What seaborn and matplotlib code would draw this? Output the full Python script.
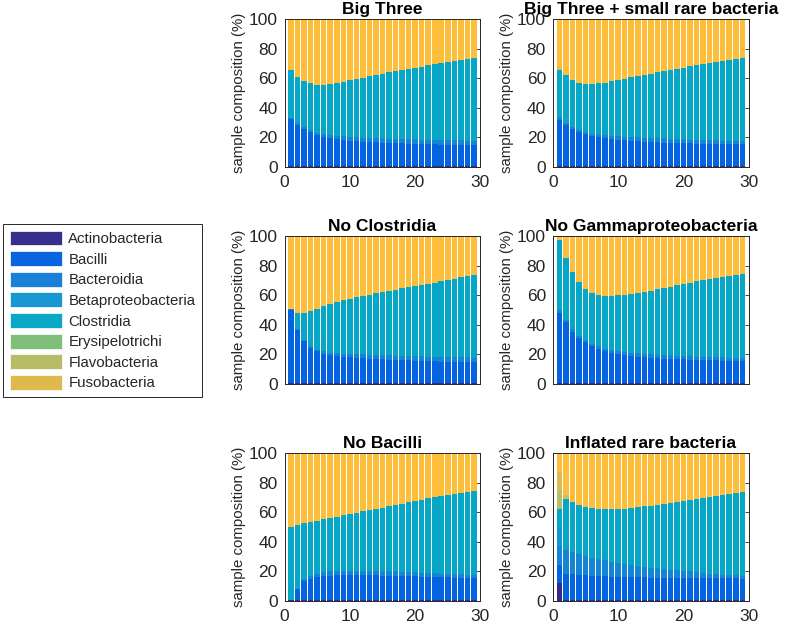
import numpy as np
import matplotlib
matplotlib.use("Agg")
import matplotlib.pyplot as plt
from matplotlib.patches import Patch
import seaborn as sns

sns.set_theme(style="white")
plt.rcParams["font.family"] = ["Liberation Sans", "DejaVu Sans"]

# ---------------- data (cumulative upper boundary of each class, %) ----------------
time = list(range(1, 30))
classes = ["Actinobacteria", "Bacilli", "Bacteroidia", "Betaproteobacteria", "Clostridia",
           "Erysipelotrichi", "Flavobacteria", "Fusobacteria"]
titles = ["Big Three", "Big Three + small rare bacteria", "No Clostridia",
          "No Gammaproteobacteria", "No Bacilli", "Inflated rare bacteria"]

actino_upper = 0.5
gamma_upper = 99.3

b3_bacilli_upper = [32.5, 28.5, 25.5, 23.5, 21.8, 20.5, 19.7, 19.0, 18.4, 17.8, 17.4, 17.1, 16.8, 16.6, 16.4,
                    16.2, 16.0, 15.9, 15.7, 15.6, 15.5, 15.4, 15.3, 15.2, 15.1, 15.0, 14.9, 14.9, 14.8]
b3_bacteroidia_upper = [33.5, 29.5, 26.8, 24.8, 23.3, 22.2, 21.6, 21.1, 20.7, 20.4, 20.1, 19.9, 19.7, 19.5, 19.3,
                        19.2, 19.0, 18.9, 18.8, 18.7, 18.6, 18.5, 18.4, 18.3, 18.2, 18.1, 18.0, 17.9, 17.8]
b3_clostridia_upper = [66.0, 61.0, 58.4, 56.6, 55.7, 55.7, 56.0, 56.8, 57.7, 58.6, 59.5, 60.4, 61.3, 62.2, 63.1,
                       64.0, 64.8, 65.6, 66.4, 67.2, 68.0, 68.8, 69.6, 70.3, 71.0, 71.8, 72.5, 73.2, 74.0]

b3r_bacilli_upper = [32.0, 28.7, 25.8, 23.8, 22.4, 21.1, 20.3, 19.5, 18.9, 18.4, 18.0, 17.6, 17.3, 17.0, 16.8,
                     16.6, 16.4, 16.3, 16.1, 16.0, 15.9, 15.8, 15.7, 15.6, 15.6, 15.5, 15.5, 15.4, 15.4]
b3r_bacteroidia_upper = [34.0, 29.6, 27.0, 25.3, 23.8, 22.6, 22.0, 21.5, 21.1, 20.8, 20.5, 20.3, 20.1, 19.9, 19.7,
                         19.5, 19.3, 19.1, 18.9, 18.7, 18.6, 18.4, 18.3, 18.1, 18.0, 17.9, 17.8, 17.7, 17.6]
b3r_clostridia_upper = [66.0, 62.0, 58.8, 57.0, 56.1, 56.1, 56.6, 57.2, 57.9, 58.8, 59.7, 60.6, 61.5, 62.4, 63.3,
                        64.0, 64.9, 65.8, 66.5, 67.2, 68.1, 68.8, 69.7, 70.4, 71.0, 71.7, 72.4, 73.1, 73.8]
b3r_fuso_upper = [67.5, 62.0, 58.8, 57.0, 56.1, 56.1, 56.6, 57.2, 57.9, 58.8, 59.7, 60.6, 61.5, 62.4, 63.3,
                  64.0, 64.9, 65.8, 66.5, 67.2, 68.1, 68.8, 69.7, 70.4, 71.0, 71.7, 72.4, 73.1, 73.8]

nc_bacilli_upper = [50.0, 36.5, 28.8, 24.4, 22.0, 20.5, 19.6, 19.0, 18.4, 18.0, 17.6, 17.3, 17.0, 16.8, 16.6,
                    16.4, 16.2, 16.0, 15.9, 15.7, 15.6, 15.5, 15.3, 15.2, 15.1, 15.0, 14.9, 14.8, 14.7]
nc_bacteroidia_upper = [50.6, 37.2, 29.6, 25.4, 23.2, 22.0, 21.3, 20.9, 20.6, 20.4, 20.2, 20.0, 19.8, 19.6, 19.4,
                        19.3, 19.1, 19.0, 18.9, 18.8, 18.7, 18.6, 18.5, 18.4, 18.3, 18.2, 18.1, 18.0, 17.9]
nc_clostridia_upper = [51.0, 48.0, 48.2, 49.6, 51.0, 52.6, 54.1, 55.4, 56.6, 57.7, 58.7, 59.6, 60.5, 61.4, 62.3,
                       63.1, 63.9, 64.7, 65.5, 66.3, 67.1, 67.9, 68.7, 69.5, 70.4, 71.3, 72.2, 73.1, 74.0]

ng_bacilli_upper = [48.0, 41.8, 35.3, 31.2, 28.2, 25.6, 23.8, 22.3, 21.2, 20.3, 19.6, 19.0, 18.5, 18.1, 17.8,
                    17.5, 17.2, 17.0, 16.8, 16.6, 16.4, 16.3, 16.1, 16.0, 15.9, 15.8, 15.7, 15.6, 15.5]
ng_bacteroidia_upper = [50.0, 43.0, 37.0, 32.6, 29.8, 27.0, 25.5, 24.0, 23.0, 22.3, 21.7, 21.2, 20.8, 20.5, 20.2,
                        19.9, 19.6, 19.4, 19.2, 19.0, 18.8, 18.6, 18.4, 18.3, 18.1, 18.0, 17.8, 17.7, 17.5]
ng_clostridia_upper = [97.7, 85.3, 75.8, 69.0, 64.5, 61.8, 60.4, 59.6, 59.5, 60.0, 60.4, 61.0, 61.8, 62.4, 63.3,
                       64.0, 65.0, 65.8, 66.7, 67.6, 68.5, 69.5, 70.4, 71.3, 72.0, 72.6, 73.3, 74.0, 74.4]

nb_bacilli_upper = [0.5, 8.0, 13.6, 15.2, 16.3, 17.0, 17.2, 17.4, 17.5, 17.5, 17.5, 17.4, 17.4, 17.3, 17.2,
                    17.1, 17.0, 16.9, 16.8, 16.7, 16.5, 16.4, 16.3, 16.1, 16.0, 15.9, 15.8, 15.6, 15.5]
nb_bacteroidia_upper = [0.5, 8.4, 15.0, 17.0, 18.5, 19.5, 20.0, 20.3, 20.5, 20.6, 20.6, 20.5, 20.5, 20.4, 20.3,
                        20.1, 20.0, 19.8, 19.6, 19.4, 19.2, 19.0, 18.8, 18.6, 18.4, 18.2, 18.0, 17.8, 17.6]
nb_clostridia_upper = [50.2, 51.4, 52.5, 53.4, 54.3, 55.2, 56.1, 57.0, 57.9, 58.8, 59.7, 60.6, 61.5, 62.4, 63.3,
                       64.3, 65.2, 66.0, 66.7, 67.6, 68.6, 69.5, 70.1, 71.0, 71.7, 72.4, 73.0, 73.8, 74.4]

inf_actino_upper = [12.0, 0.7, 0.7, 0.7, 0.7, 0.7, 0.7, 0.7, 0.7, 0.7, 0.7, 0.7, 0.7, 0.7, 0.7,
                    0.7, 0.7, 0.7, 0.7, 0.7, 0.7, 0.7, 0.7, 0.7, 0.7, 0.7, 0.7, 0.7, 0.7]
inf_bacilli_upper = [24.5, 18.5, 18.0, 17.6, 17.3, 17.0, 16.8, 16.6, 16.5, 16.4, 16.3, 16.2, 16.1, 16.0, 15.9,
                     15.9, 15.8, 15.8, 15.7, 15.7, 15.6, 15.6, 15.5, 15.5, 15.4, 15.4, 15.3, 15.3, 15.2]
inf_bacteroidia_upper = [37.0, 34.4, 33.5, 31.7, 30.5, 29.4, 28.5, 27.6, 26.7, 25.8, 25.0, 24.4, 23.8, 23.3, 22.6,
                         22.2, 21.7, 21.3, 20.8, 20.4, 20.0, 19.5, 19.0, 18.6, 18.1, 17.9, 17.6, 17.4, 17.2]
inf_beta_upper = [49.8, 34.4, 33.5, 31.7, 30.5, 29.4, 28.5, 27.6, 26.7, 25.8, 25.0, 24.4, 23.8, 23.3, 22.6,
                  22.2, 21.7, 21.3, 20.8, 20.4, 20.0, 19.5, 19.0, 18.6, 18.1, 17.9, 17.6, 17.4, 17.2]
inf_clostridia_upper = [62.0, 68.8, 67.0, 65.2, 63.8, 62.9, 62.4, 62.0, 62.0, 62.2, 62.4, 63.1, 63.6, 64.0, 64.5,
                        65.2, 65.8, 66.5, 67.2, 67.9, 68.6, 69.2, 69.9, 70.6, 71.3, 72.0, 72.6, 73.3, 74.0]
inf_flavo_upper = [74.4, 68.8, 67.0, 65.2, 63.8, 62.9, 62.4, 62.0, 62.0, 62.2, 62.4, 63.1, 63.6, 64.0, 64.5,
                   65.2, 65.8, 66.5, 67.2, 67.9, 68.6, 69.2, 69.9, 70.6, 71.3, 72.0, 72.6, 73.3, 74.0]
inf_fuso_upper = [87.4, 71.7, 67.0, 65.2, 63.8, 62.9, 62.4, 62.0, 62.0, 62.2, 62.4, 63.1, 63.6, 64.0, 64.5,
                  65.2, 65.8, 66.5, 67.2, 67.9, 68.6, 69.2, 69.9, 70.6, 71.3, 72.0, 72.6, 73.3, 74.0]

# ---------------- styles ----------------
bar_colors = {
    "Actinobacteria": "#352a87", "Bacilli": "#0363e1", "Bacteroidia": "#1485d4",
    "Betaproteobacteria": "#0e98d2", "Clostridia": "#06a7c6", "Erysipelotrichi": "#7cbf7b",
    "Flavobacteria": "#b6bd63", "Fusobacteria": "#dcba52", "Gammaproteobacteria": "#fdbf3b",
    "Other": "#f4f41a",
}
legend_colors = ["#35308c", "#0a64e0", "#197fd7", "#1897d3", "#0ba7c6", "#80bf7a", "#b9bc66", "#e0b94c"]

panels = [
    [("Actinobacteria", actino_upper), ("Bacilli", b3_bacilli_upper), ("Bacteroidia", b3_bacteroidia_upper),
     ("Clostridia", b3_clostridia_upper)],
    [("Actinobacteria", actino_upper), ("Bacilli", b3r_bacilli_upper), ("Bacteroidia", b3r_bacteroidia_upper),
     ("Clostridia", b3r_clostridia_upper), ("Fusobacteria", b3r_fuso_upper)],
    [("Actinobacteria", actino_upper), ("Bacilli", nc_bacilli_upper), ("Bacteroidia", nc_bacteroidia_upper),
     ("Clostridia", nc_clostridia_upper)],
    [("Actinobacteria", actino_upper), ("Bacilli", ng_bacilli_upper), ("Bacteroidia", ng_bacteroidia_upper),
     ("Clostridia", ng_clostridia_upper)],
    [("Actinobacteria", actino_upper), ("Bacilli", nb_bacilli_upper), ("Bacteroidia", nb_bacteroidia_upper),
     ("Clostridia", nb_clostridia_upper)],
    [("Actinobacteria", inf_actino_upper), ("Bacilli", inf_bacilli_upper), ("Bacteroidia", inf_bacteroidia_upper),
     ("Betaproteobacteria", inf_beta_upper), ("Clostridia", inf_clostridia_upper),
     ("Flavobacteria", inf_flavo_upper), ("Fusobacteria", inf_fuso_upper)],
]

fig = plt.figure(figsize=(7.87, 6.27), dpi=100)
col_left = [0.3615, 0.7025]
row_bottom = [0.7337, 0.3876, 0.0415]
ax_w, ax_h = 0.249, 0.2355
edge = "#262626"

for i, (title, layers) in enumerate(zip(titles, panels)):
    r, c = divmod(i, 2)
    ax = fig.add_axes([col_left[c], row_bottom[r], ax_w, ax_h])
    full = [("Other", 100.0), ("Gammaproteobacteria", gamma_upper)] + list(reversed(layers))
    for name, upper in full:
        heights = np.broadcast_to(np.asarray(upper, dtype=float), (len(time),))
        sns.barplot(x=time, y=list(heights), color=bar_colors[name], saturation=1, width=0.85,
                    native_scale=True, errorbar=None, linewidth=0, ax=ax)
    ax.set_xlim(0, 30)
    ax.set_ylim(0, 100)
    ax.set_xticks([0, 10, 20, 30])
    ax.set_yticks([0, 20, 40, 60, 80, 100])
    ax.set_xticklabels(["0", "10", "20", "30"])
    ax.set_yticklabels(["0", "20", "40", "60", "80", "100"])
    ax.tick_params(direction="in", length=3, width=0.6, color=edge, labelsize=12.5,
                   labelcolor=edge, top=True, right=True)
    ax.tick_params(axis="x", pad=6)
    ax.tick_params(axis="y", pad=5)
    if r == 1:
        ax.tick_params(labelbottom=False)
    for s in ax.spines.values():
        s.set_color(edge)
        s.set_linewidth(0.7)
        s.set_visible(True)
    ax.set_xlabel("")
    ax.set_ylabel("sample composition (%)", fontsize=10.8, color=edge, labelpad=2)
    ax.set_title(title, fontsize=12.5, fontweight="bold", color="black", pad=4)

handles = [Patch(facecolor=col, edgecolor="white", linewidth=0.5) for col in legend_colors]
leg = fig.legend(handles, classes, loc="upper left", bbox_to_anchor=(0.004, 0.643),
                 fontsize=10.8, frameon=True, fancybox=False, edgecolor=edge, framealpha=1,
                 handlelength=3.5, handleheight=1.15, labelspacing=0.34, handletextpad=0.4,
                 borderpad=0.45, borderaxespad=0)
leg.get_frame().set_linewidth(0.7)

fig.savefig("out.png", dpi=100)
